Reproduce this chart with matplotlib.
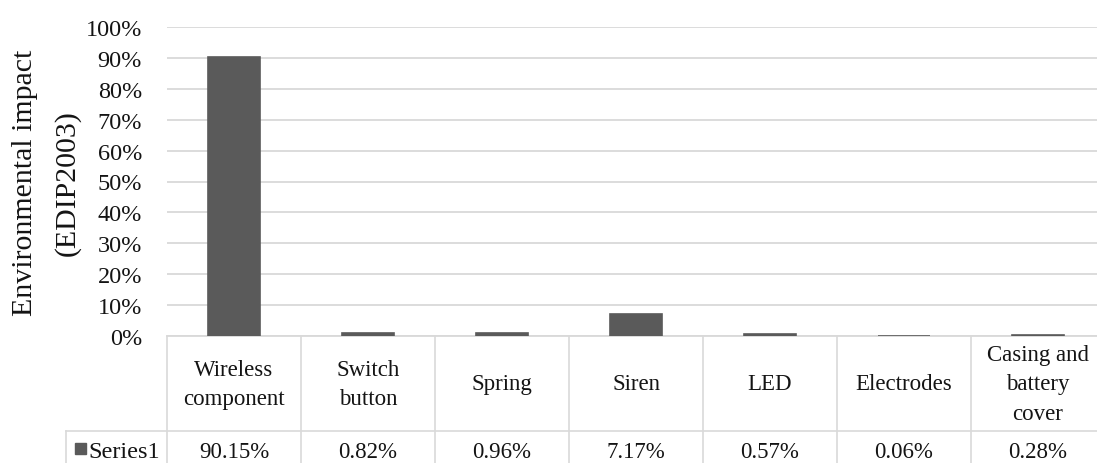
import matplotlib.pyplot as plt
from matplotlib.lines import Line2D
from matplotlib.patches import Rectangle
from matplotlib.transforms import blended_transform_factory

# contribution of each component to the total impact (%)
components = ["Wireless\ncomponent", "Switch\nbutton", "Spring", "Siren",
              "LED", "Electrodes", "Casing and\nbattery\ncover"]
impact = [90.15, 0.82, 0.96, 7.17, 0.57, 0.06, 0.28]
series_name = "Series1"
yticks = list(range(0, 101, 10))

W, H = 1097, 464
plt.rcParams['font.family'] = ['Liberation Serif', 'DejaVu Serif']
bar_col = '#5a5a5a'
grid_col = '#d9d9d9'
txt_col = '#141414'

fig = plt.figure(figsize=(W / 100, H / 100), dpi=100)
# plot area in pixels: x 167..1105 (runs off the right edge), y 28..337
ax = fig.add_axes([167 / W, (H - 337) / H, 938 / W, 309 / H])

x = range(len(components))
ax.bar(x, impact, width=0.39, color=bar_col, edgecolor=bar_col, linewidth=1.2, zorder=3)
ax.set_xlim(-0.5, len(components) - 0.5)
ax.set_ylim(0, 100)
ax.set_yticks(yticks)
ax.set_yticklabels([f"{t}%" for t in yticks], fontsize=17.5, color=txt_col)
ax.tick_params(axis='y', length=0, pad=18)
ax.tick_params(axis='x', length=0, labelbottom=False)
ax.yaxis.grid(True, color=grid_col, linewidth=1.3, zorder=0)
for s in ax.spines.values():
    s.set_visible(False)

fig.text(25 / W, 1 - 183 / H, "Environmental impact", rotation=90,
         ha='center', va='center', fontsize=21.5, color=txt_col)
fig.text(67 / W, 1 - 183 / H, "(EDIP2003)", rotation=90,
         ha='center', va='center', fontsize=21.5, color=txt_col)

# data table under the axis
tr = blended_transform_factory(ax.transData, ax.transAxes)
def ay(py):
    return (337 - py) / 309

n = len(components)
for i in range(n + 1):
    ax.add_line(Line2D([i - 0.5, i - 0.5], [ay(337), ay(480)], transform=tr,
                       color=grid_col, lw=1.2, clip_on=False, zorder=1))
ax.add_line(Line2D([-0.5, n - 0.5], [ay(337), ay(337)], transform=tr,
                   color=grid_col, lw=1.3, clip_on=False, zorder=1))
# series row
row_left = ax.transData.inverted().transform((66, 0))[0]
ax.add_line(Line2D([row_left, n - 0.5], [ay(432), ay(432)], transform=tr,
                   color=grid_col, lw=1.2, clip_on=False))
ax.add_line(Line2D([row_left, row_left], [ay(432), ay(480)], transform=tr,
                   color=grid_col, lw=1.2, clip_on=False))

for i, (name, val) in enumerate(zip(components, impact)):
    ax.text(i, ay(385), name, transform=tr, ha='center', va='center',
            fontsize=16.5, color=txt_col, linespacing=1.56, clip_on=False)
    ax.text(i, ay(453), f"{val:.2f}%", transform=tr, ha='center', va='center',
            fontsize=16.5, color=txt_col, clip_on=False)

fig.add_artist(Rectangle((75 / W, 1 - 455 / H), 11 / W, 11 / H,
                         transform=fig.transFigure, color=bar_col))
fig.text(88 / W, 1 - 453 / H, series_name, ha='left', va='center',
         fontsize=17.5, color=txt_col)

fig.savefig("out.png", dpi=100)
